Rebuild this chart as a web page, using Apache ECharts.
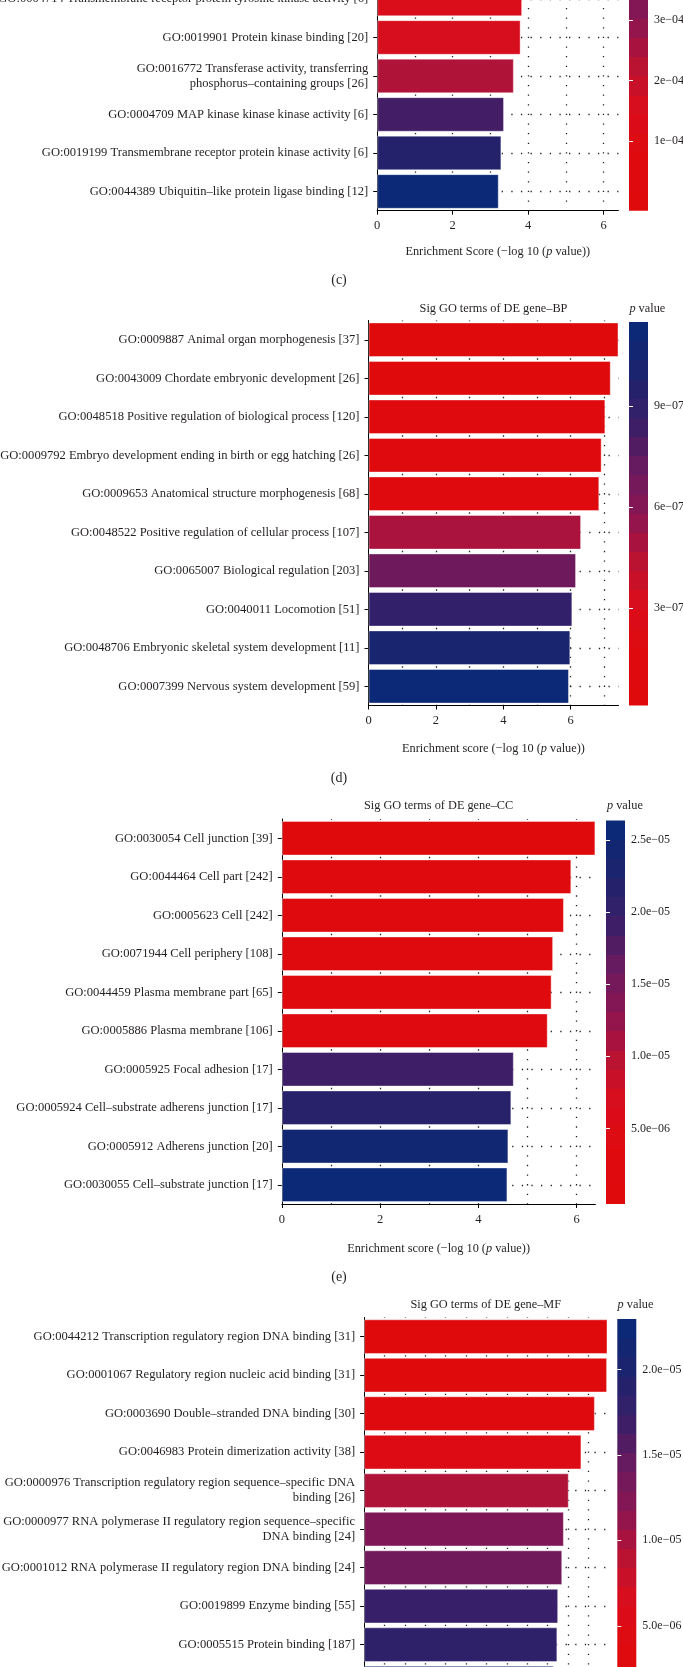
<!DOCTYPE html>
<html><head><meta charset="utf-8">
<script src="https://cdn.jsdelivr.net/npm/echarts@6/dist/echarts.min.js"></script>
<style>html,body{margin:0;padding:0;background:#fff}#chart{width:683px;height:1667px}</style>
</head><body><div id="chart"></div>
<script>
// ---------------- data ----------------
// panel (c) – top of the panel is cropped in the reference
const cLabels = [
  'GO:0004714 Transmembrane receptor protein tyrosine kinase activity [6]',
  'GO:0019901 Protein kinase binding [20]',
  'GO:0016772 Transferase activity, transferring\nphosphorus–containing groups [26]',
  'GO:0004709 MAP kinase kinase kinase activity [6]',
  'GO:0019199 Transmembrane receptor protein kinase activity [6]',
  'GO:0044389 Ubiquitin–like protein ligase binding [12]'
];
const cScores = [3.84, 3.80, 3.62, 3.36, 3.29, 3.22];
const cTopScore = 6.39;            // score of the (cropped) top bar = axis end
const cPTicks = [1e-4, 2e-4, 3e-4];
const cPTickLabels = ['1e−04', '2e−04', '3e−04'];
const cXTicks = [0, 2, 4, 6];

// panel (d) BP
const dLabels = [
  'GO:0009887 Animal organ morphogenesis [37]',
  'GO:0043009 Chordate embryonic development [26]',
  'GO:0048518 Positive regulation of biological process [120]',
  'GO:0009792 Embryo development ending in birth or egg hatching [26]',
  'GO:0009653 Anatomical structure morphogenesis [68]',
  'GO:0048522 Positive regulation of cellular process [107]',
  'GO:0065007 Biological regulation [203]',
  'GO:0040011 Locomotion [51]',
  'GO:0048706 Embryonic skeletal system development [11]',
  'GO:0007399 Nervous system development [59]'
];
const dScores = [7.42, 7.19, 7.03, 6.92, 6.85, 6.31, 6.16, 6.05, 5.99, 5.95];
const dPTicks = [3e-7, 6e-7, 9e-7];
const dPTickLabels = ['3e−07', '6e−07', '9e−07'];
const dXTicks = [0, 2, 4, 6];

// panel (e) CC
const eLabels = [
  'GO:0030054 Cell junction [39]',
  'GO:0044464 Cell part [242]',
  'GO:0005623 Cell [242]',
  'GO:0071944 Cell periphery [108]',
  'GO:0044459 Plasma membrane part [65]',
  'GO:0005886 Plasma membrane [106]',
  'GO:0005925 Focal adhesion [17]',
  'GO:0005924 Cell–substrate adherens junction [17]',
  'GO:0005912 Adherens junction [20]',
  'GO:0030055 Cell–substrate junction [17]'
];
const eScores = [6.38, 5.89, 5.74, 5.52, 5.49, 5.41, 4.72, 4.67, 4.61, 4.59];
const ePTicks = [5e-6, 1e-5, 1.5e-5, 2e-5, 2.5e-5];
const ePTickLabels = ['5.0e−06', '1.0e−05', '1.5e−05', '2.0e−05', '2.5e−05'];
const eXTicks = [0, 2, 4, 6];

// panel (f) MF – bottom of the panel is cropped (10th bar label not visible)
const fLabels = [
  'GO:0044212 Transcription regulatory region DNA binding [31]',
  'GO:0001067 Regulatory region nucleic acid binding [31]',
  'GO:0003690 Double–stranded DNA binding [30]',
  'GO:0046983 Protein dimerization activity [38]',
  'GO:0000976 Transcription regulatory region sequence–specific DNA\nbinding [26]',
  'GO:0000977 RNA polymerase II regulatory region sequence–specific\nDNA binding [24]',
  'GO:0001012 RNA polymerase II regulatory region DNA binding [24]',
  'GO:0019899 Enzyme binding [55]',
  'GO:0005515 Protein binding [187]',
  ''
];
const fScores = [5.97, 5.96, 5.66, 5.33, 5.02, 4.90, 4.86, 4.76, 4.74, 4.65];
const fPTicks = [5e-6, 1e-5, 1.5e-5, 2e-5];
const fPTickLabels = ['5.0e−06', '1.0e−05', '1.5e−05', '2.0e−05'];
const fXTicks = [0, 1, 2, 3, 4, 5];

// ---------------- style ----------------
const FONT = "'Liberation Serif','Times New Roman',serif";
const INK = '#231f20';
const palette = ['#de0a0c', '#de0a0e', '#da0d1c', '#b81232', '#8a1652', '#681a5e', '#3a1f69', '#1e236c', '#0b2976'];
const dotted = { color: '#222', width: 1.3, type: [1.3, 8.325], dashOffset: 0.65 };

const panels = [
  { key: 'c', labels: cLabels, scores: cScores, topScore: cTopScore, step: 1, xTicks: cXTicks,
    pTicks: cPTicks, pLabels: cPTickLabels, axisName: 'Enrichment Score', nameGap: 35,
    left: 377.2, width: 241.2, top: -20.3, height: 231, cbLeft: 629, cbTop: -172.8, cbH: 383.5,
    title: null, letter: { x: 339, y: 280 } },
  { key: 'd', labels: dLabels, scores: dScores, step: 1, xTicks: dXTicks,
    pTicks: dPTicks, pLabels: dPTickLabels, axisName: 'Enrichment score', nameGap: 37.5,
    left: 368.5, width: 250, top: 320.5, height: 385, cbLeft: 629, cbTop: 322, cbH: 383.5,
    title: { text: 'Sig GO terms of DE gene–BP', y: 308.3 }, pv: { x: 629.4, y: 308.3 }, letter: { x: 339, y: 778.3 } },
  { key: 'e', labels: eLabels, scores: eScores, step: 1, xTicks: eXTicks,
    pTicks: ePTicks, pLabels: ePTickLabels, axisName: 'Enrichment score', nameGap: 39,
    left: 281.8, width: 313.6, top: 819, height: 385, cbLeft: 606, cbTop: 820.5, cbH: 383.5,
    title: { text: 'Sig GO terms of DE gene–CC', y: 806 }, pv: { x: 607, y: 806 }, letter: { x: 339, y: 1277.3 } },
  { key: 'f', labels: fLabels, scores: fScores, step: 0.5, xTicks: fXTicks,
    pTicks: fPTicks, pLabels: fPTickLabels, axisName: 'Enrichment score', nameGap: 37.5,
    left: 364.1, width: 243.4, top: 1317.4, height: 385, cbLeft: 617.3, cbTop: 1319, cbH: 383.5,
    title: { text: 'Sig GO terms of DE gene–MF', y: 1305 }, pv: { x: 617.6, y: 1305 }, letter: null }
];

const grid = [], xAxis = [], yAxis = [], series = [], visualMap = [], graphic = [];

panels.forEach((P, i) => {
  const maxScore = P.topScore !== undefined ? P.topScore : Math.max(...P.scores);
  const minScore = Math.min(...P.scores);
  const pMin = Math.pow(10, -maxScore);
  const pMax = Math.pow(10, -minScore);
  const half = (pMax - pMin) / 38;           // colourbar: 20 bins, limits at bin centres
  const cbMin = pMin - half, cbMax = pMax + half;

  grid.push({ left: P.left, top: P.top, width: P.width, height: P.height, containLabel: false, outerBoundsMode: 'none' });
  grid.push({ left: P.cbLeft, top: P.cbTop, width: 19, height: P.cbH, containLabel: false, outerBoundsMode: 'none' });

  // main value axis (labels, ticks, line)
  xAxis.push({
    type: 'value', gridIndex: 2 * i, position: 'bottom', min: 0, max: maxScore, interval: P.step,
    axisLine: { show: true, onZero: false, lineStyle: { color: '#000', width: 1 } },
    axisTick: { show: true, length: 4, customValues: P.xTicks, lineStyle: { color: '#000', width: 1 } },
    axisLabel: { show: true, customValues: P.xTicks, margin: 9, fontFamily: FONT, fontSize: 12.5, color: INK },
    splitLine: { show: false },
    name: P.axisName + ' (−log 10 ({i|p} value))',
    nameLocation: 'middle', nameGap: P.nameGap,
    nameTextStyle: { fontFamily: FONT, fontSize: 12.3, color: INK,
      rich: { i: { fontStyle: 'italic', fontFamily: FONT, fontSize: 12.3, color: INK } } }
  });
  // companion axis carrying the dotted major + minor grid lines
  xAxis.push({
    type: 'value', gridIndex: 2 * i, position: 'top', min: 0, max: maxScore, interval: P.step,
    axisLine: { show: false }, axisTick: { show: false }, axisLabel: { show: false },
    splitLine: { show: true, showMinLine: false, showMaxLine: false, lineStyle: dotted }
  });
  xAxis.push({ type: 'value', gridIndex: 2 * i + 1, min: 0, max: 1, show: false });

  yAxis.push({
    type: 'category', gridIndex: 2 * i, data: P.labels, inverse: true,
    axisLine: { show: true, onZero: false, lineStyle: { color: '#000', width: 1 } },
    axisTick: { show: true, alignWithLabel: true, interval: 0, length: 4, lineStyle: { color: '#000', width: 1 } },
    axisLabel: { interval: 0, margin: 9, fontFamily: FONT, fontSize: 12.55, color: INK, lineHeight: 15 },
    splitLine: { show: true, alignWithLabel: true, interval: 0, lineStyle: dotted }
  });
  const fmt = v => {
    const k = P.pTicks.findIndex(t => Math.abs(t - v) < Math.abs(t) * 1e-6);
    return k >= 0 ? P.pLabels[k] : '';
  };
  yAxis.push({
    type: 'value', gridIndex: 2 * i + 1, position: 'right', min: cbMin, max: cbMax, z: 6,
    axisLine: { show: false }, splitLine: { show: false },
    axisTick: { show: true, inside: true, length: 4, customValues: P.pTicks, lineStyle: { color: '#fff', width: 1 } },
    axisLabel: { show: true, customValues: P.pTicks, margin: 6, formatter: fmt, fontFamily: FONT, fontSize: 12, color: INK }
  });
  yAxis.push({
    type: 'value', gridIndex: 2 * i + 1, position: 'left', min: cbMin, max: cbMax, z: 6,
    axisLine: { show: false }, splitLine: { show: false },
    axisTick: { show: true, inside: true, length: 4, customValues: P.pTicks, lineStyle: { color: '#fff', width: 1 } },
    axisLabel: { show: false }
  });

  const barIndex = series.length;
  series.push({
    type: 'bar', xAxisIndex: 3 * i, yAxisIndex: 3 * i,
    data: P.scores.map((s, k) => [s, k, Math.pow(10, -s)]),
    encode: { x: 0, y: 1 },
    barCategoryGap: '10%',
    itemStyle: { borderColor: 'rgba(255,255,255,0.4)', borderWidth: 1 },
    z: 3, silent: true, animation: false
  });
  visualMap.push({
    type: 'continuous', show: false, seriesIndex: barIndex, dimension: 2,
    min: pMin, max: pMax, inRange: { color: palette }
  });

  // colour bar: 20 bins
  const stops = [];
  for (let k = 0; k < 20; k++) {
    const col = echarts.color.lerp(k / 19, palette);
    stops.push({ offset: k / 20, color: col }, { offset: (k + 1) / 20, color: col });
  }
  const grad = new echarts.graphic.LinearGradient(0, 1, 0, 0, stops);
  series.push({
    type: 'custom', xAxisIndex: 3 * i + 2, yAxisIndex: 3 * i + 1,
    data: [[0.5, (cbMin + cbMax) / 2]], silent: true, animation: false, clip: false, z: 2,
    renderItem: (params, api) => {
      const a = api.coord([0, cbMin]);
      const b = api.coord([1, cbMax]);
      return { type: 'rect', shape: { x: a[0], y: b[1], width: b[0] - a[0], height: a[1] - b[1] }, style: { fill: grad } };
    }
  });

  if (P.title) {
    graphic.push({ type: 'text', x: P.left + P.width / 2, y: P.title.y,
      style: { text: P.title.text, fontFamily: FONT, fontSize: 12.3, fill: INK, align: 'center', verticalAlign: 'middle' } });
    graphic.push({ type: 'text', x: P.pv.x, y: P.pv.y,
      style: { text: '{i|p} value', fontFamily: FONT, fontSize: 12.3, fill: INK, align: 'left', verticalAlign: 'middle',
        rich: { i: { fontStyle: 'italic', fontFamily: FONT, fontSize: 12.3, fill: INK } } } });
  }
  if (P.letter) {
    graphic.push({ type: 'text', x: P.letter.x, y: P.letter.y,
      style: { text: '(' + P.key + ')', fontFamily: FONT, fontSize: 14, fill: INK, align: 'center', verticalAlign: 'middle' } });
  }
});

const chart = echarts.init(document.getElementById('chart'), null, { renderer: 'canvas' });
chart.setOption({ animation: false, backgroundColor: '#fff', grid, xAxis, yAxis, series, visualMap, graphic });
</script>
</body></html>
